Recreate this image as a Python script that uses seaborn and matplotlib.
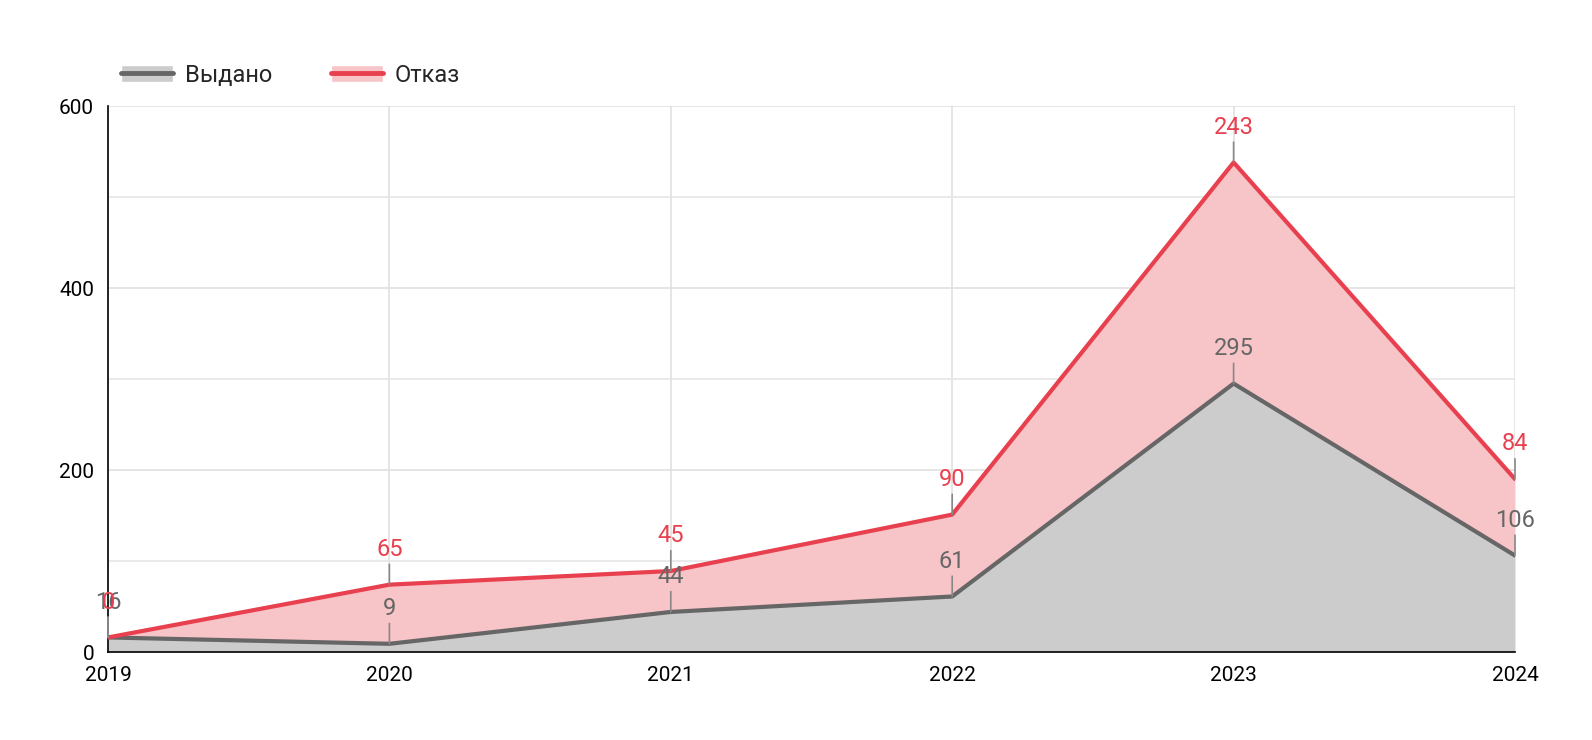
import matplotlib
matplotlib.use("Agg")
import matplotlib.pyplot as plt
import seaborn as sns
import numpy as np
import pandas as pd
from matplotlib.patches import Patch
from matplotlib.lines import Line2D
from matplotlib.legend_handler import HandlerTuple

years = [2019, 2020, 2021, 2022, 2023, 2024]
issued = [16, 9, 44, 61, 295, 106]
refused = [0, 65, 45, 90, 243, 84]
series_names = ["Выдано", "Отказ"]

sns.set_theme(style="white")
plt.rcParams['font.family'] = ['Roboto', 'DejaVu Sans']

gray_line, gray_fill = "#666666", "#cccccc"
red_line, red_fill = "#e8404e", "#f7c4c8"

issued_a = np.array(issued)
top = issued_a + np.array(refused)
df = pd.DataFrame({"year": years, "issued": issued_a, "top": top})

fig = plt.figure(figsize=(15.92, 7.4), dpi=100)
ax = fig.add_axes([108/1592, 1-652/740, (1515-108)/1592, (652-106)/740])

ax.fill_between(df.year, 0, df.issued, color=gray_fill, lw=0, zorder=1)
ax.fill_between(df.year, df.issued, df.top, color=red_fill, lw=0, zorder=1)
sns.lineplot(data=df, x="year", y="issued", color=gray_line, lw=3, ax=ax, zorder=3)
sns.lineplot(data=df, x="year", y="top", color=red_line, lw=3, ax=ax, zorder=3)

ax.set_xlim(2019, 2024)
ax.set_ylim(0, 600)
ax.set_xticks(years)
ax.set_xticklabels([str(y) for y in years])
ax.set_yticks([0, 200, 400, 600])
ax.set_yticks([100, 300, 500], minor=True)
ax.grid(True, which="major", color="#e0e0e0", lw=1.2, zorder=0)
ax.grid(True, which="minor", axis="y", color="#e6e6e6", lw=1.2, zorder=0)
ax.set_axisbelow(True)
for s in ["top", "right"]:
    ax.spines[s].set_visible(False)
for s in ["left", "bottom"]:
    ax.spines[s].set_color("black")
    ax.spines[s].set_linewidth(1.2)
ax.tick_params(axis="both", labelsize=15, colors="black", length=0, pad=10)
ax.set_xlabel("")
ax.set_ylabel("")

def label(x, y, v, c):
    ax.annotate(str(v), (x, y), xytext=(0, 17), textcoords="offset points",
                ha="center", va="bottom", fontsize=17, color=c,
                arrowprops=dict(arrowstyle="-", color="#888888", lw=1.2, shrinkA=0, shrinkB=0),
                zorder=5, annotation_clip=False)

for x, v, y in zip(years, issued, issued_a):
    label(x, y, v, gray_line)
for x, v, y in zip(years, refused, top):
    label(x, y, v, red_line)

handles = [(Patch(facecolor=gray_fill), Line2D([], [], color=gray_line, lw=3.5)),
           (Patch(facecolor=red_fill), Line2D([], [], color=red_line, lw=3.5))]
fig.legend(handles, series_names, loc="center left", bbox_to_anchor=(100/1592, 1-75/740),
           ncol=2, frameon=False, fontsize=17, handlelength=2.2, handletextpad=0.5,
           columnspacing=2.5,
           handler_map={tuple: HandlerTuple(ndivide=1, pad=0)})

fig.savefig("out.png", dpi=100)
